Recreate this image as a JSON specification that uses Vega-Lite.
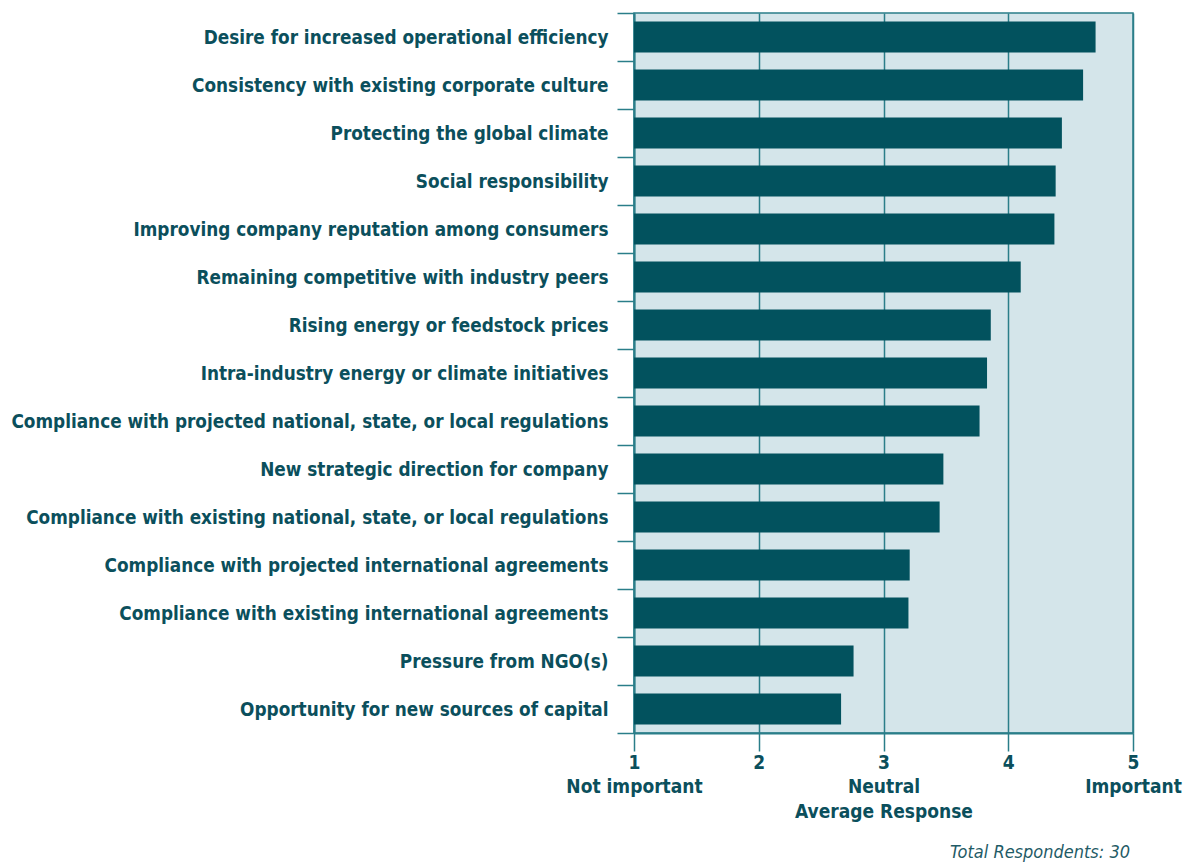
{
  "$schema": "https://vega.github.io/schema/vega-lite/v6.json",
  "autosize": {"type": "none"},
  "width": 499,
  "height": 720,
  "padding": {"left": 634, "top": 13, "right": 56, "bottom": 130},
  "background": "white",
  "config": {
    "font": "DejaVu Sans Condensed, Roboto, sans-serif",
    "view": {"fill": "#D4E5EA", "stroke": "#2A7E89", "strokeWidth": 1.5}
  },
  "title": {
    "text": "Total Respondents: 30",
    "orient": "bottom",
    "anchor": "end",
    "frame": "group",
    "offset": 23,
    "dx": -3,
    "font": "DejaVu Sans Condensed, Roboto, sans-serif",
    "fontSize": 18,
    "fontStyle": "italic",
    "fontWeight": "normal",
    "color": "#1F5B66"
  },
  "data": {
    "values": [
      {"factor": "Desire for increased operational efficiency", "value": 4.70},
      {"factor": "Consistency with existing corporate culture", "value": 4.60},
      {"factor": "Protecting the global climate", "value": 4.43},
      {"factor": "Social responsibility", "value": 4.38},
      {"factor": "Improving company reputation among consumers", "value": 4.37},
      {"factor": "Remaining competitive with industry peers", "value": 4.10},
      {"factor": "Rising energy or feedstock prices", "value": 3.86},
      {"factor": "Intra-industry energy or climate initiatives", "value": 3.83},
      {"factor": "Compliance with projected national, state, or local regulations", "value": 3.77},
      {"factor": "New strategic direction for company", "value": 3.48},
      {"factor": "Compliance with existing national, state, or local regulations", "value": 3.45},
      {"factor": "Compliance with projected international agreements", "value": 3.21},
      {"factor": "Compliance with existing international agreements", "value": 3.20},
      {"factor": "Pressure from NGO(s)", "value": 2.76},
      {"factor": "Opportunity for new sources of capital", "value": 2.66}
    ]
  },
  "mark": {"type": "bar", "color": "#02525E", "height": {"band": 0.646}},
  "encoding": {
    "y": {
      "field": "factor",
      "type": "nominal",
      "sort": null,
      "scale": {"paddingInner": 0, "paddingOuter": 0},
      "axis": {
        "title": null,
        "tickBand": "extent",
        "tickSize": 17,
        "tickColor": "#2A7E89",
        "tickWidth": 1.5,
        "domainColor": "#2A7E89",
        "domainWidth": 2,
        "labelPadding": 9,
        "labelFont": "DejaVu Sans Condensed, Roboto, sans-serif",
        "labelFontSize": 18.8,
        "labelFontWeight": "bold",
        "labelColor": "#0B4F5C",
        "labelLimit": 700
      }
    },
    "x": {
      "field": "value",
      "type": "quantitative",
      "scale": {"domain": [1, 5], "nice": false, "zero": false},
      "axis": {
        "values": [1, 2, 3, 4, 5],
        "title": "Average Response",
        "titleFont": "DejaVu Sans Condensed, Roboto, sans-serif",
        "titleFontSize": 19,
        "titleFontWeight": "bold",
        "titleColor": "#0B4F5C",
        "titlePadding": 6,
        "labelExpr": "datum.value == 1 ? ['1', 'Not important'] : datum.value == 3 ? ['3', 'Neutral'] : datum.value == 5 ? ['5', 'Important'] : datum.label",
        "labelFont": "DejaVu Sans Condensed, Roboto, sans-serif",
        "labelFontSize": 19,
        "labelFontWeight": "bold",
        "labelColor": "#0B4F5C",
        "labelLineHeight": 24,
        "labelPadding": 2,
        "labelFlush": false,
        "labelOverlap": false,
        "tickSize": 18,
        "tickColor": "#2A7E89",
        "tickWidth": 1.5,
        "domainColor": "#2A7E89",
        "domainWidth": 2,
        "grid": true,
        "gridColor": "#2A7E89",
        "gridWidth": 1.5
      }
    },
    "x2": {"datum": 1}
  }
}
